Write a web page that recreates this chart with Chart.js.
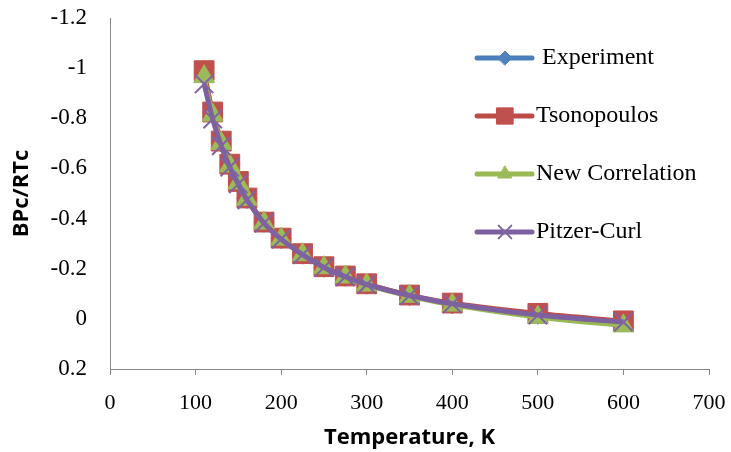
<!DOCTYPE html>
<html>
<head>
<meta charset="utf-8">
<script src="https://cdn.jsdelivr.net/npm/chart.js@4.4.1/dist/chart.umd.min.js"></script>
<style>
  html, body { margin: 0; padding: 0; background: #fff; }
</style>
</head>
<body>
<canvas id="bChart" width="731" height="452"></canvas>
<script>
// Temperature (K) and reduced second virial coefficient per method
const temps = [110, 120, 130, 140, 150, 160, 180, 200, 225, 250, 275, 300, 350, 400, 500, 600];
const experiment   = [-0.98, -0.82, -0.705, -0.615, -0.545, -0.48, -0.385, -0.32, -0.258, -0.206, -0.17, -0.138, -0.093, -0.06, -0.018, 0.012];
const tsonopoulos  = [-0.99, -0.825, -0.709, -0.617, -0.548, -0.482, -0.386, -0.322, -0.26, -0.208, -0.171, -0.14, -0.095, -0.063, -0.022, 0.008];
const newCorr      = [-0.966, -0.813, -0.70, -0.61, -0.542, -0.477, -0.382, -0.318, -0.256, -0.204, -0.167, -0.135, -0.09, -0.055, -0.006, 0.028];
const pitzerCurl   = [-0.937, -0.797, -0.69, -0.605, -0.538, -0.475, -0.382, -0.318, -0.256, -0.205, -0.168, -0.137, -0.093, -0.06, -0.015, 0.013];

const seriesNames = [" Experiment", "Tsonopoulos", "New Correlation", "Pitzer-Curl"];
const xTicks = [0, 100, 200, 300, 400, 500, 600, 700];
const yTicks = [-1.2, -1, -0.8, -0.6, -0.4, -0.2, 0, 0.2];

const pts = vals => temps.map((t, i) => ({ x: t, y: vals[i] }));

Chart.defaults.font.family = "'Liberation Serif', 'Times New Roman', serif";
Chart.defaults.font.size = 22;
Chart.defaults.color = "#000";

// legend drawn inside the plot, line + marker like the spreadsheet original
const sideLegend = {
  id: "sideLegend",
  afterDraw(chart) {
    const { ctx, chartArea } = chart;
    const x0 = chartArea.right - 232, y0 = chartArea.top + 40, step = 58;
    chart.data.datasets.forEach((ds, i) => {
      const y = y0 + i * step;
      ctx.save();
      ctx.strokeStyle = ds.borderColor;
      ctx.lineWidth = 5;
      ctx.lineCap = "round";
      ctx.beginPath();
      ctx.moveTo(x0, y);
      ctx.lineTo(x0 + 55, y);
      ctx.stroke();
      ctx.fillStyle = ds.pointBackgroundColor;
      ctx.strokeStyle = ds.pointBorderColor;
      ctx.lineWidth = ds.pointBorderWidth;
      Chart.helpers.drawPoint(ctx, {
        pointStyle: ds.pointStyle, radius: ds.legendRadius, rotation: 0, borderWidth: ds.pointBorderWidth
      }, x0 + 28, y);
      ctx.fillStyle = "#000";
      ctx.font = "24px 'Liberation Serif'";
      ctx.textBaseline = "middle";
      ctx.textAlign = "left";
      ctx.fillText(ds.label, x0 + 59, y);
      ctx.restore();
    });
  }
};

new Chart(document.getElementById("bChart"), {
  type: "line",
  data: {
    datasets: [
      {
        label: seriesNames[0], data: pts(experiment), order: 4,
        borderColor: "#4A7EBB", borderWidth: 4.5, tension: 0.35,
        pointStyle: "rectRot", pointRadius: 10, legendRadius: 7,
        pointBackgroundColor: "#4F81BD", pointBorderColor: "#4F81BD", pointBorderWidth: 1
      },
      {
        label: seriesNames[1], data: pts(tsonopoulos), order: 3,
        borderColor: "#BE4B48", borderWidth: 4.5, tension: 0.35,
        pointStyle: "rect", pointRadius: 14, legendRadius: 11.5,
        pointBackgroundColor: "#C0504D", pointBorderColor: "#C0504D", pointBorderWidth: 1
      },
      {
        label: seriesNames[2], data: pts(newCorr), order: 2,
        borderColor: "#98B954", borderWidth: 4.5, tension: 0.35,
        pointStyle: "triangle", pointRadius: 12, legendRadius: 8,
        pointBackgroundColor: "#9BBB59", pointBorderColor: "#9BBB59", pointBorderWidth: 1
      },
      {
        label: seriesNames[3], data: pts(pitzerCurl), order: 1,
        borderColor: "#7D60A0", borderWidth: 5, tension: 0.35,
        pointStyle: "crossRot", pointRadius: 13, legendRadius: 9,
        pointBackgroundColor: "#8064A2", pointBorderColor: "#8064A2", pointBorderWidth: 2
      }
    ]
  },
  options: {
    responsive: false,
    animation: false,
    layout: { padding: { top: 18, right: 22, left: 0, bottom: 0 } },
    plugins: { legend: { display: false }, tooltip: { enabled: false } },
    scales: {
      x: {
        type: "linear", min: 0, max: 700,
        afterBuildTicks: s => { s.ticks = xTicks.map(v => ({ value: v })); },
        afterFit: s => { s.height = 83; s.paddingLeft = 0; s.paddingRight = 0; },
        grid: { display: true, drawOnChartArea: false, drawTicks: true, tickLength: 6, color: "#868686" },
        border: { display: true, color: "#868686" },
        ticks: { padding: 15, font: { size: 22 } },
        title: {
          display: true, text: "Temperature, K",
          font: { family: "'Open Sans', sans-serif", weight: "bold", size: 22 },
          padding: { top: 0, bottom: 1 }
        }
      },
      y: {
        type: "linear", reverse: true, min: -1.2, max: 0.2,
        afterBuildTicks: s => { s.ticks = yTicks.map(v => ({ value: v })); },
        afterFit: s => { s.width = 110; s.paddingTop = 0; s.paddingBottom = 0; },
        grid: { display: false, drawTicks: false },
        border: { display: true, color: "#868686" },
        ticks: { padding: 23, font: { size: 23 }, callback: v => String(+v.toFixed(1)) },
        title: {
          display: true, text: "BPc/RTc",
          font: { family: "'Open Sans', sans-serif", weight: "bold", size: 22 },
          padding: { top: 9, bottom: 0 }
        }
      }
    }
  },
  plugins: [sideLegend]
});
</script>
</body>
</html>
